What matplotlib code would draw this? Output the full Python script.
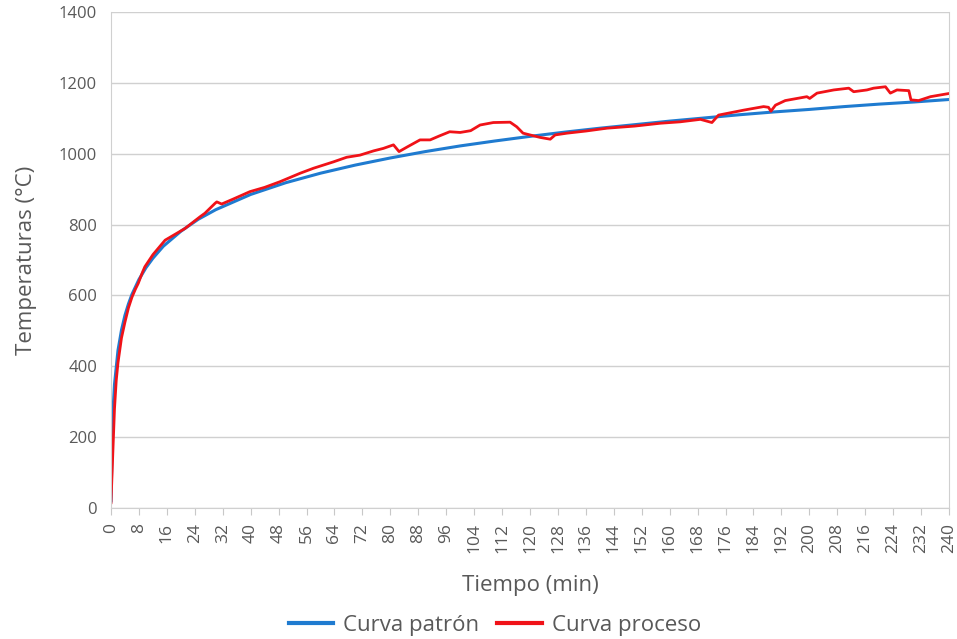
import matplotlib.pyplot as plt
import numpy as np

plt.rcParams['font.family'] = ['Open Sans', 'DejaVu Sans']

# Curva patrón
t_patron = [0, 0.5, 1, 2, 3, 4, 5, 6, 8, 10, 12, 15, 20, 25, 30, 40, 50, 60, 70, 80,
            90, 100, 110, 120, 130, 140, 150, 160, 170, 180, 190, 200, 210, 220, 230, 240]
temp_patron = [20, 261, 349, 445, 502, 544, 576, 603, 645, 678, 705, 739, 781, 815, 842, 885, 918,
               945, 968, 988, 1006, 1022, 1036, 1049, 1061, 1072, 1082, 1092, 1101, 1110,
               1118, 1125, 1133, 1140, 1146, 1153]

# Curva proceso
t_proceso = [0, 0.5, 1, 1.5, 2, 3, 4, 5, 6, 7, 7.8, 9, 9.7, 12, 15.5, 21.2, 25.5, 26.9, 29.8,
             30.3, 31.7, 35, 39.8, 44, 48.4, 54.2, 58, 63.7, 67.5, 71.3, 75.2, 78, 80.9, 82.5,
             85, 88.5, 91.4, 94, 97, 100, 103, 105.7, 109.5, 114.3, 116.2, 118, 120, 122.9,
             125.8, 127.2, 130.6, 136, 142, 150, 157.3, 163, 168.8, 172.1, 174, 181.2, 186.9,
             188.3, 189, 190.3, 193.1, 199.3, 200.1, 202.2, 207, 211.3, 212.7, 216.5, 218.4,
             221.8, 223.2, 225.1, 228.5, 229.1, 231.3, 234.7, 240]
temp_proceso = [15, 150, 280, 360, 410, 480, 525, 565, 595, 618, 634, 665, 681, 715, 756, 789, 822,
                832, 860, 864, 858, 872, 893, 905, 921, 945, 959, 977, 990, 996, 1008, 1015,
                1025, 1006, 1020, 1039, 1039, 1050, 1062, 1060, 1065, 1081, 1088, 1089, 1076,
                1058, 1053, 1046, 1041, 1053, 1058, 1064, 1072, 1078, 1086, 1090, 1097, 1088,
                1109, 1123, 1133, 1131, 1120, 1137, 1150, 1161, 1156, 1171, 1180, 1185, 1175,
                1180, 1185, 1189, 1171, 1180, 1178, 1152, 1150, 1161, 1170]

fig = plt.figure(figsize=(9.57, 6.39), dpi=100)
ax = fig.add_axes([111 / 957, 1 - 508 / 639, 838 / 957, 496 / 639])

ax.plot(t_patron, temp_patron, color='#1f7bd0', lw=2.2, label='Curva patrón')
ax.plot(t_proceso, temp_proceso, color='#f01218', lw=2.0, label='Curva proceso')

ax.set_xlim(0, 240)
ax.set_ylim(0, 1400)
ax.set_xticks(np.arange(0, 241, 8))
ax.set_yticks(np.arange(0, 1401, 200))
ax.tick_params(axis='x', labelrotation=90, colors='#595959', labelsize=12.5, length=5,
               color='#c8c8c8', pad=6)
ax.tick_params(axis='y', colors='#595959', labelsize=12, length=0, pad=10)
ax.grid(axis='y', color='#d0d0d0', lw=1)
ax.set_axisbelow(True)
for s in ['left', 'right', 'bottom']:
    ax.spines[s].set_color('#d0d0d0')
ax.spines['top'].set_visible(False)

ax.set_xlabel('Tiempo (min)', fontsize=16, color='#595959', labelpad=16)
ax.set_ylabel('Temperaturas (°C)', fontsize=16, color='#595959', labelpad=16)

leg = fig.legend(loc='center', bbox_to_anchor=(0.517, 1 - 625 / 639), ncol=2, frameon=False,
                 fontsize=16, labelcolor='#595959', handlelength=2.0, columnspacing=0.8,
                 handletextpad=0.45, borderpad=0)
for h in leg.legend_handles:
    h.set_linewidth(3)

fig.savefig('out.png', dpi=100)
